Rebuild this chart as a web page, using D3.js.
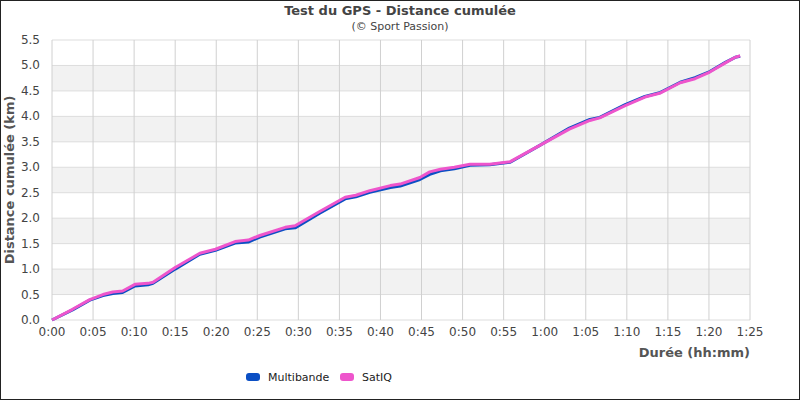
<!DOCTYPE html>
<html><head><meta charset="utf-8">
<script src="https://cdn.jsdelivr.net/npm/d3@7"></script>
<style>body{margin:0;background:#fff}svg{font-family:"DejaVu Sans",sans-serif}</style>
</head><body><div id="chart"></div>
<script>
// minutes elapsed and cumulative distance (km)
const minutes = [0,2.5,4.6,6.2,7.4,8.6,10.1,11.7,12.3,15,18,19.9,22.3,23.9,25.3,28.4,29.6,32.6,35.7,37,38.7,41.2,42.4,44.8,46,47.3,49,50.9,53.3,55.8,59.4,63,65.5,66.7,69.8,72.2,74.1,76.5,78.3,80.1,82,83.2,83.8];
const multibande = [0,0.2,0.39,0.48,0.52,0.54,0.67,0.69,0.72,1.0,1.29,1.37,1.51,1.53,1.63,1.79,1.81,2.1,2.38,2.42,2.51,2.6,2.63,2.76,2.86,2.93,2.97,3.04,3.05,3.1,3.43,3.77,3.94,3.98,4.23,4.39,4.47,4.67,4.76,4.88,5.06,5.16,5.18];
const satiq = [0,0.21,0.4,0.5,0.55,0.57,0.7,0.72,0.74,1.03,1.31,1.39,1.54,1.57,1.66,1.82,1.85,2.13,2.41,2.45,2.54,2.64,2.67,2.8,2.91,2.96,3.0,3.06,3.06,3.11,3.43,3.75,3.92,3.97,4.21,4.38,4.46,4.66,4.74,4.87,5.05,5.16,5.19];
const series = [{name:"Multibande", color:"#0b4fc4", values:multibande},
                {name:"SatIQ", color:"#ee55cc", values:satiq}];
const yTicks = d3.range(0, 5.51, 0.5);
const xTicks = d3.range(0, 86, 5);

const W = 800, H = 400;
const m = {top:40, left:52, right:50, bottom:80};
const svg = d3.select("#chart").append("svg").attr("width", W).attr("height", H);
svg.append("rect").attr("x",0.5).attr("y",0.5).attr("width",W-1).attr("height",H-1)
  .attr("fill","#fff").attr("stroke","#222");

const x = d3.scaleLinear().domain([0,85]).range([m.left, W-m.right]);
const y = d3.scaleLinear().domain([0,5.5]).range([H-m.bottom, m.top]);

// alternating bands
svg.selectAll("rect.band").data(yTicks.slice(0,-1).filter((d,i)=>i%2==1))
  .join("rect").attr("x",x(0)).attr("width",x(85)-x(0))
  .attr("y",d=>y(d+0.5)).attr("height",d=>y(d)-y(d+0.5)).attr("fill","#f2f2f2");

svg.append("g").selectAll("line").data(yTicks).join("line")
  .attr("x1",x(0)).attr("x2",x(85)).attr("y1",d=>y(d)).attr("y2",d=>y(d)).attr("stroke","#ddd");
svg.append("g").selectAll("line").data(xTicks).join("line")
  .attr("y1",y(0)).attr("y2",y(5.5)).attr("x1",d=>x(d)).attr("x2",d=>x(d)).attr("stroke","#d0d0d0");

const fmt = d => Math.floor(d/60) + ":" + String(d%60).padStart(2,"0");
svg.append("g").selectAll("text").data(yTicks).join("text")
  .attr("x",x(0)-12).attr("y",d=>y(d)+4).attr("text-anchor","end")
  .attr("font-size",12).attr("fill","#444").text(d=>d.toFixed(1));
svg.append("g").selectAll("text").data(xTicks).join("text")
  .attr("x",d=>x(d)).attr("y",y(0)+16).attr("text-anchor","middle")
  .attr("font-size",12).attr("fill","#444").text(fmt);

svg.append("text").attr("x",W/2).attr("y",15).attr("text-anchor","middle")
  .attr("font-size",13).attr("font-weight","bold").attr("fill","#444").text("Test du GPS - Distance cumulée");
svg.append("text").attr("x",W/2).attr("y",30).attr("text-anchor","middle")
  .attr("font-size",11).attr("fill","#444").text("(© Sport Passion)");
svg.append("text").attr("x",x(85)).attr("y",357).attr("text-anchor","end")
  .attr("font-size",13).attr("font-weight","bold").attr("fill","#555").text("Durée (hh:mm)");
svg.append("text").attr("transform",`translate(14,${(y(0)+y(5.5))/2}) rotate(-90)`)
  .attr("text-anchor","middle").attr("font-size",13).attr("font-weight","bold").attr("fill","#555")
  .text("Distance cumulée (km)");

const line = d3.line().x((d,i)=>x(minutes[i])).y(d=>y(d));
svg.append("g").selectAll("path").data(series).join("path")
  .attr("d",d=>line(d.values)).attr("fill","none").attr("stroke",d=>d.color)
  .attr("stroke-width",3).attr("stroke-linejoin","round");

const lg = svg.append("g").selectAll("g").data(series).join("g")
  .attr("transform",(d,i)=>`translate(${246+i*94},378)`);
lg.append("rect").attr("x",0).attr("y",-5).attr("width",14).attr("height",8).attr("rx",3).attr("fill",d=>d.color);
lg.append("text").attr("x",22).attr("y",3).attr("font-size",11).attr("fill","#222").text(d=>d.name);
</script></body></html>
